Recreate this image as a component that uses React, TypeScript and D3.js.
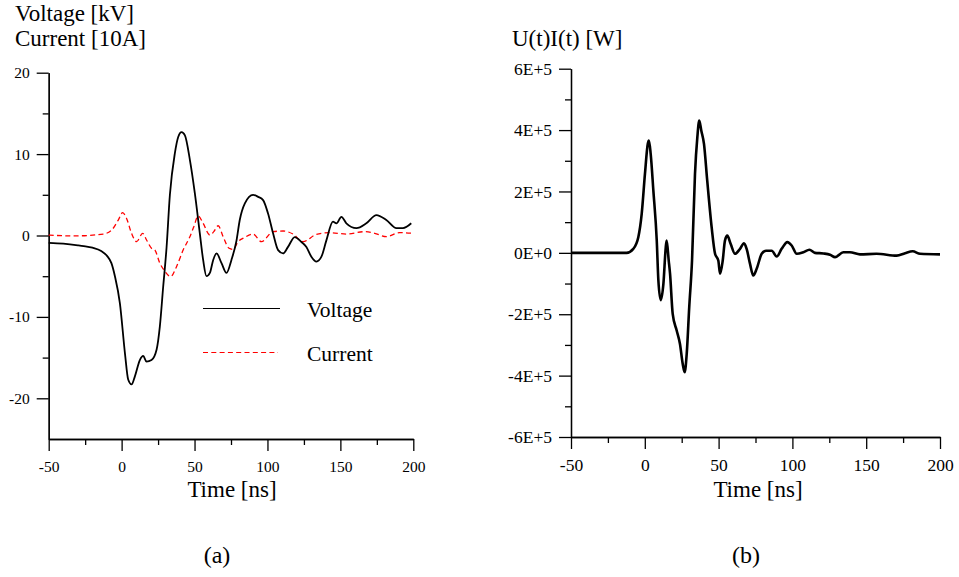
import { useEffect, useRef } from 'react'
import * as d3 from 'd3'

// Panel (a): voltage [kV] and current [10 A] vs time [ns]
const voltageT = [-50, -40, -30, -26, -20, -14, -10, -7, -4.6, -1.2, 2.3, 4.5, 6.8, 9.1, 12.5, 14.8, 17.1, 20.5, 24, 26.2, 28.5, 30.8, 33.1, 36.5, 38.8, 41.1, 43.4, 46.8, 50.2, 53.6, 55.9, 58.2, 60.5, 62.8, 65.1, 68.5, 71.9, 75.3, 78.8, 81, 84.5, 90.1, 93.6, 97, 100.4, 103.8, 107.3, 110.7, 114.1, 118.7, 123.3, 126.7, 130.1, 133.6, 137, 140.4, 144.9, 147.3, 150.7, 154.1, 161, 167.8, 174.7, 181.5, 188.4, 192.9, 198.6]
const voltageV = [-0.9, -1.0, -1.2, -1.3, -1.5, -1.9, -2.5, -3.4, -5.0, -8.3, -14.5, -17.7, -18.3, -17.3, -15.3, -14.8, -15.5, -15.3, -14.0, -11.2, -6.3, -1.5, 5.0, 10.1, 12.1, 12.7, 12.3, 9.3, 5.2, 0.3, -3.0, -5.0, -4.6, -3.0, -2.2, -3.4, -4.6, -3.0, -0.6, 1.9, 3.95, 5.0, 4.75, 4.35, 2.7, 0.3, -1.8, -2.2, -1.4, -0.2, -0.8, -1.4, -2.6, -3.2, -2.6, -0.6, 1.7, 1.5, 2.3, 1.5, 0.9, 1.5, 2.5, 1.9, 0.9, 0.9, 1.5]

const currentT = [-50, -33, -12.6, -6.8, -2.3, 0.7, 3.4, 6.8, 10.3, 14.4, 17.1, 20.5, 22.8, 26.2, 29.7, 33.6, 37.7, 42.2, 46.8, 49.5, 52.5, 55.9, 60.5, 63.2, 66.2, 69.6, 73.7, 76.4, 79.9, 84.5, 90.1, 95.9, 103.8, 110.7, 117.5, 124.4, 133.6, 142.7, 154.1, 166.6, 173.5, 181.5, 190.6, 199.7]
const currentI = [0.05, -0.05, 0.18, 0.67, 1.9, 2.8, 2.1, 0.27, -0.76, 0.27, -0.55, -1.57, -1.78, -3.4, -4.4, -5.05, -3.8, -1.78, -0.15, 1.08, 2.4, 1.5, 0.06, 0.47, 1.2, -0.15, -1.57, -1.7, -0.76, -0.22, 0.18, -0.76, 0.47, 0.55, 0.18, -0.76, 0.15, 0.35, 0.18, 0.47, 0.27, -0.15, 0.35, 0.27]

// Panel (b): instantaneous power U(t)I(t) [W]
const powerT = [-50, -12.3, -7.8, -4.4, -2.1, 0.1, 2, 2.8, 4, 5.8, 8.1, 9.2, 10.8, 12.6, 14.2, 14.8, 16.2, 17.1, 18.9, 21.6, 23.8, 25.7, 27, 28.4, 30.1, 32, 34, 35.6, 36.9, 38.3, 40.1, 42.3, 45.3, 47.6, 49.8, 51, 52.8, 54.3, 55.9, 58.2, 61.1, 64.5, 67.2, 69, 71.3, 73.5, 75.8, 79.2, 82.1, 86, 89.4, 92.7, 96.6, 99.5, 102.9, 107.4, 111.5, 115.3, 121, 125.5, 128.9, 134.5, 139, 145.8, 157, 170.7, 176.3, 181.5, 186.5, 200]
const powerP = [0, 0, 0.13e5, 0.51e5, 1.27e5, 2.57e5, 3.55e5, 3.66e5, 3.22e5, 2.03e5, 0.4e5, -0.9e5, -1.54e5, -1.01e5, 0.18e5, 0.4e5, -0.25e5, -0.68e5, -1.99e5, -2.53e5, -2.96e5, -3.62e5, -3.89e5, -3.29e5, -1.77e5, -0.25e5, 2.57e5, 3.77e5, 4.31e5, 3.98e5, 3.55e5, 2.35e5, 0.83e5, -0.03e5, -0.25e5, -0.68e5, -0.25e5, 0.4e5, 0.56e5, 0.29e5, -0.03e5, 0.13e5, 0.31e5, 0.13e5, -0.36e5, -0.74e5, -0.52e5, -0.03e5, 0.07e5, 0.07e5, -0.12e5, 0.13e5, 0.35e5, 0.24e5, -0.03e5, 0.02e5, 0.1e5, 0, -0.02e5, -0.06e5, -0.14e5, 0.02e5, 0.02e5, -0.05e5, -0.03e5, -0.09e5, -0.01e5, 0.05e5, -0.03e5, -0.05e5]

const timeMajor = [-50, 0, 50, 100, 150, 200]
const timeMinor = [-25, 25, 75, 125, 175]
const leftMajor = [20, 10, 0, -10, -20]
const leftMinor = [15, 5, -5, -15]
const rightMajor = [6e5, 4e5, 2e5, 0, -2e5, -4e5, -6e5]
const rightMinor = [5e5, 3e5, 1e5, -1e5, -3e5, -5e5]

const FONT = "'Liberation Serif', 'Times New Roman', Times, serif"

export default function App() {
  const svgRef = useRef<SVGSVGElement | null>(null)
  const width = 959
  const height = 577

  useEffect(() => {
    if (!svgRef.current) return
    const svg = d3.select(svgRef.current)
    svg.selectAll('*').remove()

    const styleAxis = (g: any, fontSize: number) => {
      g.attr('font-family', null).attr('font-size', null)
      g.selectAll('.domain').attr('stroke', '#000').attr('stroke-width', 1.3)
      g.selectAll('.tick line').attr('stroke', '#000').attr('stroke-width', 1.3)
      g.selectAll('text').attr('fill', '#000').style('font-size', `${fontSize}px`).style('font-family', FONT)
    }

    const drawAxes = (x: any, y: any, yMajor: number[], yMinor: number[], yFmt: (d: number) => string,
      fontSize: number, xPad: number, yPad: number) => {
      const y0 = y.range()[0]
      const x0 = x.range()[0]
      // minor ticks first (no labels)
      const gxm = svg.append('g').attr('transform', `translate(0,${y0})`)
        .call(d3.axisBottom(x).tickValues(timeMinor).tickSize(6).tickSizeOuter(0).tickFormat(() => ''))
      styleAxis(gxm, fontSize)
      const gx = svg.append('g').attr('transform', `translate(0,${y0})`)
        .call(d3.axisBottom(x).tickValues(timeMajor).tickSize(12).tickSizeOuter(0).tickPadding(xPad)
          .tickFormat((d: any) => String(d)))
      styleAxis(gx, fontSize)
      const gym = svg.append('g').attr('transform', `translate(${x0},0)`)
        .call(d3.axisLeft(y).tickValues(yMinor).tickSize(6).tickSizeOuter(0).tickFormat(() => ''))
      styleAxis(gym, fontSize)
      const gy = svg.append('g').attr('transform', `translate(${x0},0)`)
        .call(d3.axisLeft(y).tickValues(yMajor).tickSize(12).tickSizeOuter(0).tickPadding(yPad)
          .tickFormat((d: any) => yFmt(d)))
      styleAxis(gy, fontSize)
    }

    const label = (x: number, y: number, size: number, txt: string, anchor = 'start') =>
      svg.append('text').attr('x', x).attr('y', y).attr('text-anchor', anchor)
        .style('font-family', FONT).style('font-size', `${size}px`).attr('fill', '#000').text(txt)

    // ---- panel (a)
    const xa = d3.scaleLinear().domain([-50, 200]).range([48.7, 413.3])
    const ya = d3.scaleLinear().domain([-25, 20]).range([439, 72.7])
    drawAxes(xa, ya, leftMajor, leftMinor, d => String(d), 15.5, 10, 7)

    const lineA = d3.line<[number, number]>().x(d => xa(d[0])).y(d => ya(d[1])).curve(d3.curveMonotoneX)
    svg.append('path')
      .datum(currentT.map((t, i) => [t, currentI[i]] as [number, number]))
      .attr('d', lineA)
      .attr('fill', 'none').attr('stroke', '#ff0000').attr('stroke-width', 1.3)
      .attr('stroke-dasharray', '5,3.3')
    svg.append('path')
      .datum(voltageT.map((t, i) => [t, voltageV[i]] as [number, number]))
      .attr('d', lineA)
      .attr('fill', 'none').attr('stroke', '#000').attr('stroke-width', 1.8)
      .attr('stroke-linejoin', 'round')

    // legend
    svg.append('line').attr('x1', 203).attr('x2', 280).attr('y1', 308.5).attr('y2', 308.5)
      .attr('stroke', '#000').attr('stroke-width', 1.2)
    label(307, 316.5, 21.5, 'Voltage')
    svg.append('line').attr('x1', 203).attr('x2', 278).attr('y1', 352.5).attr('y2', 352.5)
      .attr('stroke', '#ff0000').attr('stroke-width', 1.2).attr('stroke-dasharray', '5,3.3')
    label(307, 361, 21.5, 'Current')

    label(15, 21, 23, 'Voltage [kV]')
    label(15, 46, 23, 'Current [10A]')
    label(232, 497, 23, 'Time [ns]', 'middle')
    label(217, 563, 24, '(a)', 'middle')

    // ---- panel (b)
    const xb = d3.scaleLinear().domain([-50, 200]).range([571, 940])
    const yb = d3.scaleLinear().domain([-6e5, 6e5]).range([437, 68.7])
    const fmtE = (d: number) => {
      const m = d / 1e5
      return m === 0 ? '0E+0' : `${m}E+5`
    }
    drawAxes(xb, yb, rightMajor, rightMinor, fmtE, 17.5, 10, 7)

    const lineB = d3.line<[number, number]>().x(d => xb(d[0])).y(d => yb(d[1])).curve(d3.curveMonotoneX)
    svg.append('path')
      .datum(powerT.map((t, i) => [t, powerP[i]] as [number, number]))
      .attr('d', lineB)
      .attr('fill', 'none').attr('stroke', '#000').attr('stroke-width', 2.6)
      .attr('stroke-linejoin', 'round')

    label(512, 46, 23, 'U(t)I(t) [W]')
    label(758, 497, 23, 'Time [ns]', 'middle')
    label(746, 563, 24, '(b)', 'middle')
  }, [])

  return (
    <svg ref={svgRef} width={width} height={height}
      style={{ position: 'absolute', left: 0, top: 0, background: '#fff' }} />
  )
}
